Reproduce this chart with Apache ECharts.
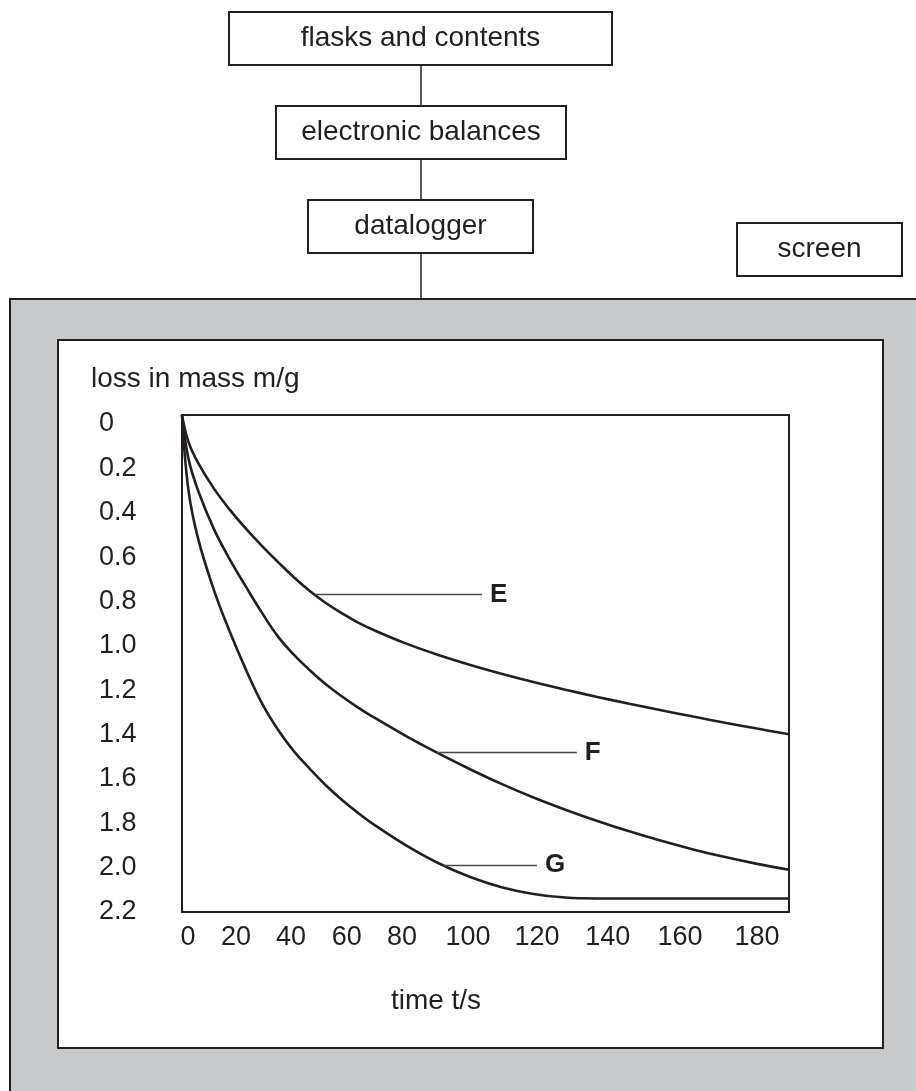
<!DOCTYPE html>
<html>
<head>
<meta charset="utf-8">
<script src="https://cdn.jsdelivr.net/npm/echarts@6/dist/echarts.min.js"></script>
<style>
  html, body { margin: 0; padding: 0; background: #fff; }
  #main { width: 916px; height: 1091px; }
</style>
</head>
<body>
<div id="main"></div>
<script>
// time t/s, shared by the three curves
const time = [0, 2, 5, 10, 15, 20, 25, 30, 35, 40, 45, 50, 55, 60, 70, 80, 90, 100, 110, 120, 130, 140, 150, 160, 170, 180, 190];
// loss in mass m/g
const massE = [0, 0.118, 0.211, 0.326, 0.42, 0.503, 0.579, 0.65, 0.718, 0.779, 0.832, 0.877, 0.918, 0.952, 1.011, 1.061, 1.105, 1.145, 1.182, 1.216, 1.248, 1.278, 1.307, 1.335, 1.362, 1.388, 1.413];
const massF = [0, 0.192, 0.333, 0.505, 0.64, 0.76, 0.875, 0.98, 1.061, 1.13, 1.192, 1.245, 1.294, 1.338, 1.42, 1.496, 1.567, 1.633, 1.693, 1.747, 1.797, 1.843, 1.885, 1.923, 1.957, 1.987, 2.013];
const massG = [0, 0.33, 0.545, 0.775, 0.961, 1.127, 1.275, 1.392, 1.488, 1.566, 1.639, 1.703, 1.76, 1.812, 1.904, 1.982, 2.044, 2.09, 2.12, 2.136, 2.14, 2.14, 2.14, 2.14, 2.14, 2.14, 2.14];

// tick labels
const xTickLabels = ['0', '20', '40', '60', '80', '100', '120', '140', '160', '180'];
const yTickLabels = ['0', '0.2', '0.4', '0.6', '0.8', '1.0', '1.2', '1.4', '1.6', '1.8', '2.0', '2.2'];
const yTickValues = [0, 0.2, 0.4, 0.6, 0.8, 1.0, 1.2, 1.4, 1.6, 1.8, 2.0, 2.2];

// curve labels (leader line from curve out to letter)
const curveNames = ['E', 'F', 'G'];
const leaderFrom = [41.6, 79.8, 81.7];
const leaderTo = [93.9, 123.6, 111.1];
const leaderLevel = [0.795, 1.495, 1.993];

// where the x labels sit along the time axis (they are not evenly spread in the figure)
const xLabelAt = [1.9, 16.9, 34.1, 51.6, 68.9, 89.5, 111.1, 133.3, 155.9, 180.0];

const ink = '#231f20';
const font = "'Liberation Sans', Arial, Helvetica, sans-serif";

const chart = echarts.init(document.getElementById('main'));

function pairs(t, m) {
    return t.map((v, i) => [v, m[i]]);
}

function nearest(arr, v) {
    let best = 0;
    for (let i = 1; i < arr.length; i++) {
        if (Math.abs(arr[i] - v) < Math.abs(arr[best] - v)) best = i;
    }
    return best;
}

const curves = [pairs(time, massE), pairs(time, massF), pairs(time, massG)];

const series = curves.map((d, i) => ({
    name: curveNames[i],
    type: 'line',
    data: d,
    smooth: 0.4,
    showSymbol: false,
    lineStyle: { color: ink, width: 2.6 },
    z: 3,
    markLine: {
        silent: true,
        symbol: 'none',
        animation: false,
        lineStyle: { color: '#4a4a4a', width: 1.4, type: 'solid' },
        label: {
            show: true,
            position: 'end',
            distance: 8,
            formatter: curveNames[i],
            color: ink,
            fontFamily: font,
            fontWeight: 'bold',
            fontSize: 26
        },
        data: [[
            { coord: [leaderFrom[i], leaderLevel[i]] },
            { coord: [leaderTo[i], leaderLevel[i]] }
        ]]
    }
}));

// box in the flow diagram at the top
function box(x, y, w, h, txt) {
    return [
        { type: 'rect', shape: { x: x, y: y, width: w, height: h }, style: { fill: '#fff', stroke: ink, lineWidth: 2 } },
        { type: 'text', x: x + w / 2, y: y + h / 2, style: { text: txt, fill: ink, font: '28px ' + font, textAlign: 'center', textVerticalAlign: 'middle' } }
    ];
}

const graphics = [
    // screen panel
    { type: 'rect', z: -20, shape: { x: 10, y: 299, width: 920, height: 820 }, style: { fill: '#c8c9cb', stroke: ink, lineWidth: 2 } },
    { type: 'rect', z: -19, shape: { x: 58, y: 340, width: 825, height: 708 }, style: { fill: '#fff', stroke: ink, lineWidth: 2 } },
    // connectors
    { type: 'line', shape: { x1: 421, y1: 65, x2: 421, y2: 106 }, style: { stroke: ink, lineWidth: 1.5 } },
    { type: 'line', shape: { x1: 421, y1: 159, x2: 421, y2: 200 }, style: { stroke: ink, lineWidth: 1.5 } },
    { type: 'line', shape: { x1: 421, y1: 253, x2: 421, y2: 299 }, style: { stroke: ink, lineWidth: 1.5 } },
    ...box(229, 12, 383, 53, 'flasks and contents'),
    ...box(276, 106, 290, 53, 'electronic balances'),
    ...box(308, 200, 225, 53, 'datalogger'),
    ...box(737, 223, 165, 53, 'screen'),
    // axis titles
    { type: 'text', x: 91, y: 379, style: { text: 'loss in mass m/g', fill: ink, font: '28px ' + font, textAlign: 'left', textVerticalAlign: 'middle' } },
    { type: 'text', x: 436, y: 1001, style: { text: 'time t/s', fill: ink, font: '28px ' + font, textAlign: 'center', textVerticalAlign: 'middle' } }
];

const option = {
    backgroundColor: '#fff',
    animation: false,
    graphic: graphics,
    grid: {
        left: 182,
        top: 415,
        right: 127,
        bottom: 179,
        show: true,
        backgroundColor: '#fff',
        borderColor: ink,
        borderWidth: 2
    },
    xAxis: {
        type: 'value',
        min: 0,
        max: 190,
        axisLine: { show: false },
        axisTick: { show: false },
        splitLine: { show: false },
        axisLabel: {
            customValues: xLabelAt,
            formatter: v => xTickLabels[nearest(xLabelAt, v)],
            color: ink,
            fontFamily: font,
            fontSize: 27,
            margin: 12
        }
    },
    yAxis: [{
        // scale the curves are drawn on: 0 at the top edge of the frame
        type: 'value',
        inverse: true,
        min: 0,
        max: 2.2,
        axisLine: { show: false },
        axisTick: { show: false },
        splitLine: { show: false },
        axisLabel: { show: false }
    }, {
        // scale the printed numbers follow in the figure
        type: 'value',
        inverse: true,
        position: 'left',
        min: -0.0406,
        max: 2.2,
        axisLine: { show: false },
        axisTick: { show: false },
        splitLine: { show: false },
        axisLabel: {
            customValues: yTickValues,
            formatter: v => yTickLabels[nearest(yTickValues, v)],
            align: 'left',
            margin: 83,
            color: ink,
            fontFamily: font,
            fontSize: 27
        }
    }],
    series: series
};

chart.setOption(option);
</script>
</body>
</html>
